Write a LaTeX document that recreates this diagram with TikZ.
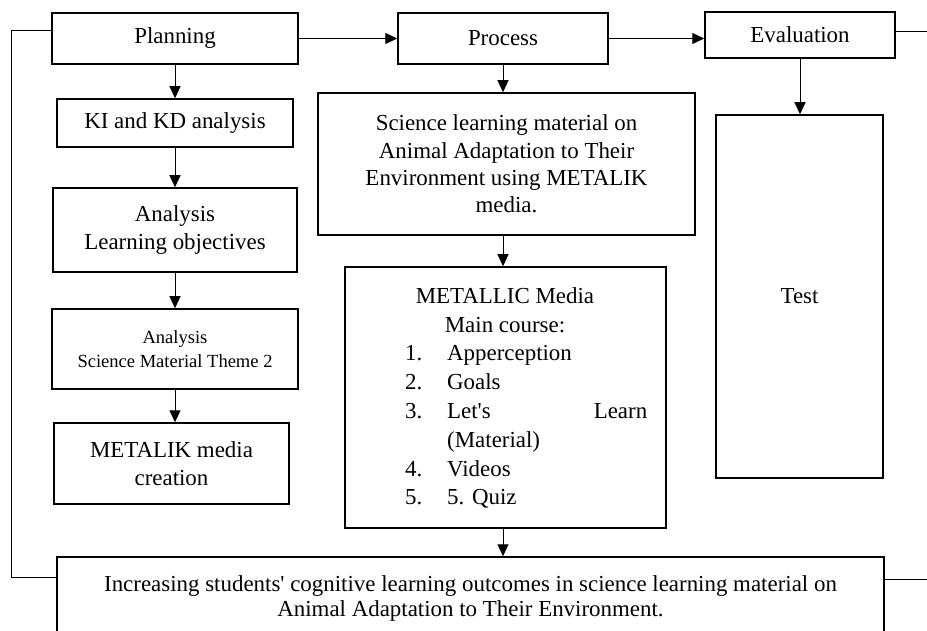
\documentclass[tikz,border=0pt]{standalone}
\usepackage{fontspec}
\setmainfont{Liberation Serif}
\usetikzlibrary{arrows.meta}
\begin{document}
\begin{tikzpicture}[x=1bp,y=-1bp,
  box/.style={draw, line width=1.5bp, inner sep=0pt, align=center,
    font=\fontsize{23}{27.5}\selectfont},
  txt/.style={inner sep=0pt, font=\fontsize{23}{29}\selectfont},
  conn/.style={line width=1bp, -{Triangle[length=12bp,width=11bp]}},
  link/.style={line width=1bp}]
\clip (0,0) rectangle (927,631);
\fill[white] (0,0) rectangle (927,631);

% top row
\node[box, minimum width=246bp, minimum height=51bp] (plan) at (175,38.5) {Planning};
\node[box, minimum width=210bp, minimum height=51bp] (proc) at (503,38.5) {Process};
\node[box, minimum width=190bp, minimum height=46bp] (eval) at (800,35) {Evaluation};

% planning column
\node[box, minimum width=236bp, minimum height=48bp] (ki) at (175,123) {KI and KD analysis};
\node[box, minimum width=244bp, minimum height=84bp] (lo) at (175,230) {Analysis\\Learning objectives};
\node[box, minimum width=246bp, minimum height=80bp, font=\fontsize{18.6}{24}\selectfont] (asm) at (175,349) {Analysis\\Science Material Theme 2};
\node[box, minimum width=235bp, minimum height=81bp] (cre) at (171.5,463.5) {METALIK media\\creation};

% process column
\node[box, minimum width=377bp, minimum height=142bp] (sci) at (506.5,164)
  {Science learning material on\\Animal Adaptation to Their\\Environment using METALIK\\media.};
\node[box, minimum width=321bp, minimum height=261bp] (met) at (505.5,397.5) {};
\node[txt, align=center] (metH) at (505,310.5) {METALLIC Media\\Main course:};
\node[txt, align=left, anchor=west] (metL) at (405,427)
  {\makebox[42bp][l]{1.}Apperception\\
   \makebox[42bp][l]{2.}Goals\\
   \makebox[42bp][l]{3.}\makebox[200bp][s]{Let\textquotesingle s\hfill Learn}\\
   \makebox[42bp][l]{}(Material)\\
   \makebox[42bp][l]{4.}Videos\\
   \makebox[42bp][l]{5.}5. Quiz};

% evaluation column
\node[box, minimum width=167bp, minimum height=363bp] (test) at (799.5,296.5) {Test};

% outcome
\node[box, minimum width=827bp, minimum height=83bp, font=\fontsize{23}{26}\selectfont] (inc) at (470.5,598.5)
  {Increasing students\textquotesingle{} cognitive learning outcomes in science learning material on\\Animal Adaptation to Their Environment.};

% connectors
\draw[conn] (plan.east) -- (plan.east -| proc.west);
\draw[conn] (proc.east) -- (proc.east -| eval.west);
\draw[conn] (plan.south) -- (ki.north);
\draw[conn] (ki.south) -- (lo.north);
\draw[conn] (lo.south) -- (asm.north);
\draw[conn] (asm.south) -- (asm.south |- cre.north);
\draw[conn] (proc.south) -- (proc.south |- sci.north);
\draw[conn] (sci.south -| proc.south) -- (proc.south |- met.north);
\draw[conn] (met.south -| proc.south) -- (proc.south |- inc.north);
\draw[conn] (eval.south) -- (eval.south |- test.north);

\coordinate (L1) at (11,31);
\coordinate (L2) at (11,577);
\draw[link] (plan.west |- L1) -- (L1) -- (L2) -- (L2 -| inc.west);
\coordinate (R1) at (927,32);
\draw[link] (eval.east |- R1) -- (R1);
\coordinate (R2) at (927,579);
\draw[link] (inc.east |- R2) -- (R2);
\end{tikzpicture}
\end{document}
